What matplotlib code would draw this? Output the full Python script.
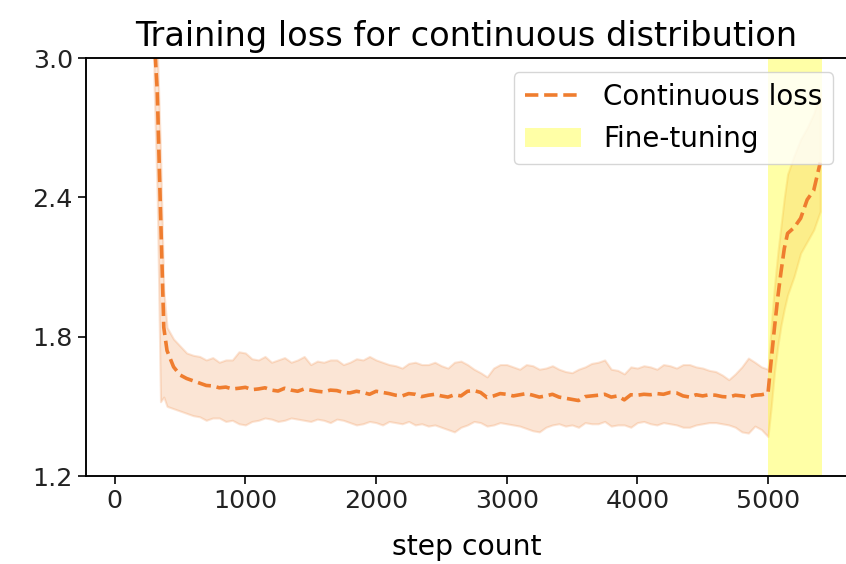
import matplotlib
matplotlib.use("Agg")
import matplotlib.pyplot as plt

# loss statistics: mean and the shaded band (lower / upper)
# initial drop
warmup_steps = [300, 325, 350, 375, 400, 450]
warmup_mean = [3.10, 2.86, 2.34, 1.84, 1.74, 1.67]
warmup_upper = [3.30, 3.05, 2.60, 2.00, 1.84, 1.79]
warmup_lower = [2.90, 2.40, 1.52, 1.54, 1.50, 1.49]

# plateau, every 50 steps from 500 to 5000
plateau_steps = list(range(500, 5001, 50))
plateau_mean = [1.635, 1.62, 1.61, 1.60, 1.59, 1.588, 1.58, 1.583, 1.575, 1.578,
                1.582, 1.572, 1.575, 1.58, 1.57, 1.566, 1.578, 1.57, 1.565, 1.575,
                1.57, 1.565, 1.562, 1.57, 1.568, 1.56, 1.558, 1.565, 1.56, 1.552,
                1.565, 1.56, 1.555, 1.548, 1.545, 1.555, 1.552, 1.542, 1.548, 1.552,
                1.545, 1.54, 1.55, 1.545, 1.565, 1.568, 1.56, 1.538, 1.545, 1.555,
                1.552, 1.545, 1.55, 1.555, 1.548, 1.54, 1.545, 1.552, 1.54, 1.535,
                1.53, 1.525, 1.542, 1.545, 1.548, 1.552, 1.54, 1.545, 1.528, 1.55,
                1.548, 1.552, 1.55, 1.555, 1.552, 1.56, 1.558, 1.545, 1.54, 1.55,
                1.545, 1.55, 1.548, 1.542, 1.54, 1.548, 1.545, 1.54, 1.548, 1.55,
                1.556]
plateau_upper = [1.76, 1.73, 1.72, 1.715, 1.70, 1.71, 1.69, 1.70, 1.70, 1.735,
                 1.73, 1.705, 1.70, 1.715, 1.69, 1.70, 1.71, 1.69, 1.70, 1.715,
                 1.68, 1.695, 1.69, 1.70, 1.70, 1.68, 1.69, 1.705, 1.70, 1.715,
                 1.70, 1.69, 1.68, 1.675, 1.665, 1.685, 1.69, 1.68, 1.68, 1.69,
                 1.675, 1.665, 1.69, 1.695, 1.68, 1.66, 1.645, 1.627, 1.665, 1.68,
                 1.68, 1.67, 1.66, 1.68, 1.675, 1.66, 1.665, 1.675, 1.66, 1.65,
                 1.645, 1.66, 1.67, 1.685, 1.69, 1.70, 1.66, 1.655, 1.64, 1.67,
                 1.665, 1.675, 1.67, 1.66, 1.68, 1.675, 1.665, 1.68, 1.68, 1.67,
                 1.665, 1.655, 1.65, 1.635, 1.615, 1.64, 1.67, 1.708, 1.69, 1.67,
                 1.66]
plateau_lower = [1.48, 1.47, 1.46, 1.455, 1.44, 1.45, 1.45, 1.435, 1.44, 1.425,
                 1.42, 1.435, 1.44, 1.45, 1.445, 1.435, 1.44, 1.45, 1.445, 1.44,
                 1.435, 1.445, 1.44, 1.43, 1.445, 1.44, 1.43, 1.42, 1.425, 1.435,
                 1.43, 1.42, 1.435, 1.43, 1.425, 1.435, 1.42, 1.425, 1.415, 1.42,
                 1.41, 1.40, 1.39, 1.41, 1.42, 1.435, 1.43, 1.415, 1.42, 1.43,
                 1.425, 1.42, 1.415, 1.405, 1.395, 1.39, 1.41, 1.42, 1.425, 1.415,
                 1.42, 1.41, 1.43, 1.425, 1.425, 1.435, 1.415, 1.42, 1.42, 1.41,
                 1.43, 1.435, 1.425, 1.42, 1.43, 1.425, 1.42, 1.41, 1.41, 1.42,
                 1.425, 1.43, 1.43, 1.425, 1.42, 1.41, 1.39, 1.385, 1.415, 1.40,
                 1.37]

# fine-tuning phase
ft_steps = [5025, 5050, 5075, 5100, 5125, 5150, 5200, 5250, 5300, 5350, 5400]
ft_mean = [1.70, 1.84, 1.97, 2.08, 2.18, 2.245, 2.27, 2.31, 2.39, 2.43, 2.55]
ft_upper = [1.85, 2.02, 2.16, 2.28, 2.40, 2.50, 2.58, 2.65, 2.70, 2.76, 2.85]
ft_lower = [1.50, 1.65, 1.76, 1.85, 1.92, 1.98, 2.06, 2.16, 2.21, 2.26, 2.34]

finetune_start = 5000
finetune_end = 5410

steps = warmup_steps + plateau_steps + ft_steps
loss_mean = warmup_mean + plateau_mean + ft_mean
loss_upper = warmup_upper + plateau_upper + ft_upper
loss_lower = warmup_lower + plateau_lower + ft_lower

plt.rcParams['font.family'] = ['DejaVu Sans']
plt.rcParams['font.size'] = 20

fig = plt.figure(figsize=(8.46, 5.64), dpi=100)
ax = fig.add_axes([0.1017, 0.156, 0.8995, 0.741])

orange = '#ef7d2f'
ax.plot(steps, loss_mean, '--', color=orange, linewidth=2.6, label='Continuous loss')
ax.fill_between(steps, loss_lower, loss_upper, color=orange, alpha=0.2, linewidth=1.5)
ax.axvspan(finetune_start, finetune_end, color='yellow', alpha=0.35, linewidth=0,
           label='Fine-tuning')

ax.set_xlim(-220, 5605)
ax.set_ylim(1.2, 3.0)
ax.set_yticks([1.2, 1.8, 2.4, 3.0])
ax.set_xticks([0, 1000, 2000, 3000, 4000, 5000])

for s in ax.spines.values():
    s.set_linewidth(1.36)
ax.tick_params(width=1.36, length=6, labelsize=18.3, colors='#222222')

ax.set_title('Training loss for continuous distribution', fontsize=24.2, pad=9)
ax.set_xlabel('step count', fontsize=20.3, labelpad=14)
ax.set_ylabel('Loss', fontsize=20.3)
ax.yaxis.set_label_coords(-0.108, 0.5)
ax.legend(loc='upper right', fontsize=20)

fig.savefig('out.png', dpi=100)
